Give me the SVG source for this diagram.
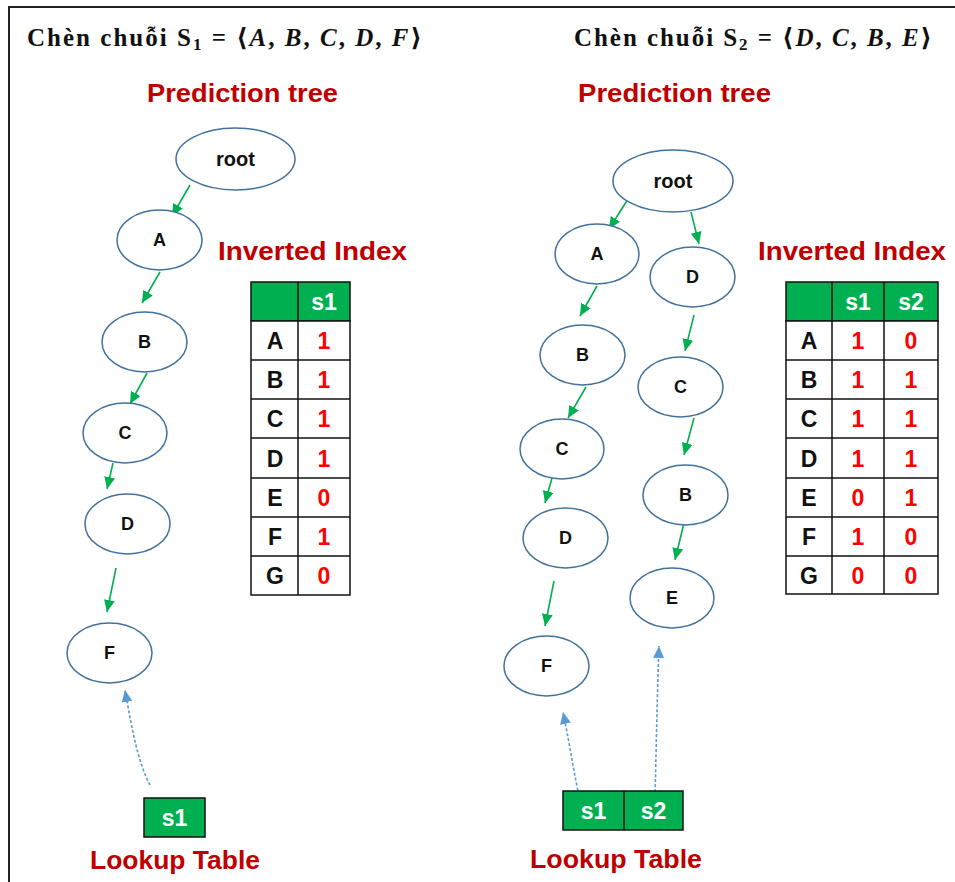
<svg xmlns="http://www.w3.org/2000/svg" width="955" height="882" viewBox="0 0 955 882">
  <style>
    .title { font-family: "Liberation Serif", "DejaVu Serif", serif; font-weight: bold; font-size: 25px; fill: #111; }
    .it { font-style: italic; }
    .sub { font-size: 17px; }
    .head { font-family: "Liberation Sans", Arial, sans-serif; font-weight: bold; font-size: 26px; fill: #C00000; }
    .node ellipse { fill: #fff; stroke: #41719C; stroke-width: 1.5; }
    .node text { font-family: "Liberation Sans", Arial, sans-serif; font-weight: bold; font-size: 18px; fill: #111; text-anchor: middle; }
    .node text.root { font-size: 20px; }
    .edge { stroke: #00B050; stroke-width: 1.6; fill: none; marker-end: url(#ga); }
    .link { stroke: #5B9BD5; stroke-width: 1.6; fill: none; stroke-dasharray: 3 2; marker-end: url(#ba); }
    .grid rect { fill: #fff; stroke: #111; stroke-width: 1.5; }
    .grid rect.hd { fill: #00B050; }
    .grid line { stroke: #111; stroke-width: 1.5; }
    .cell { font-family: "Liberation Sans", Arial, sans-serif; font-weight: bold; font-size: 23px; text-anchor: middle; }
    .key { fill: #111; }
    .val { fill: #FF0000; }
    .hdr { fill: #fff; }
    .frame { stroke: #222; stroke-width: 2; fill: none; }
  </style>
  <defs>
    <marker id="ga" markerUnits="userSpaceOnUse" markerWidth="12" markerHeight="11" refX="12" refY="5.5" orient="auto">
      <path d="M0,0 L12,5.5 L0,11 z" fill="#00B050"/>
    </marker>
    <marker id="ba" markerUnits="userSpaceOnUse" markerWidth="12" markerHeight="11" refX="12" refY="5.5" orient="auto">
      <path d="M0,0 L12,5.5 L0,11 z" fill="#5B9BD5"/>
    </marker>
  </defs>

  <rect width="955" height="882" fill="#fff"/>
  <path class="frame" d="M9,882 V7 H955"/>

  <!-- headings -->
  <text class="title" x="27" y="46" textLength="395" lengthAdjust="spacing">Chèn chuỗi S<tspan class="sub" dy="4">1</tspan><tspan dy="-4"> = ⟨</tspan><tspan class="it">A</tspan>,  <tspan class="it">B</tspan>, <tspan class="it">C</tspan>, <tspan class="it">D</tspan>, <tspan class="it">F</tspan>⟩</text>
  <text class="title" x="574" y="46" textLength="358" lengthAdjust="spacing">Chèn chuỗi S<tspan class="sub" dy="4">2</tspan><tspan dy="-4"> = ⟨</tspan><tspan class="it">D</tspan>, <tspan class="it">C</tspan>, <tspan class="it">B</tspan>, <tspan class="it">E</tspan>⟩</text>

  <text class="head" x="147" y="102" textLength="191" lengthAdjust="spacingAndGlyphs">Prediction tree</text>
  <text class="head" x="578" y="102" textLength="193" lengthAdjust="spacingAndGlyphs">Prediction tree</text>
  <text class="head" x="218" y="260" textLength="189" lengthAdjust="spacingAndGlyphs">Inverted Index</text>
  <text class="head" x="758" y="260" textLength="188" lengthAdjust="spacingAndGlyphs">Inverted Index</text>
  <text class="head" x="90" y="869" textLength="170" lengthAdjust="spacingAndGlyphs">Lookup Table</text>
  <text class="head" x="530" y="868" textLength="172" lengthAdjust="spacingAndGlyphs">Lookup Table</text>

  <!-- connectors -->
  <g id="connectors">
    <!-- tree 1 -->
    <line class="edge" x1="190" y1="185" x2="172" y2="216"/>
    <line class="edge" x1="160" y1="272" x2="142" y2="303"/>
    <line class="edge" x1="147" y1="373" x2="130" y2="404"/>
    <line class="edge" x1="113" y1="463" x2="107" y2="489"/>
    <line class="edge" x1="116" y1="568" x2="107" y2="612"/>
    <!-- tree 2 -->
    <line class="edge" x1="628" y1="199" x2="609" y2="229"/>
    <line class="edge" x1="691" y1="212" x2="699" y2="244"/>
    <line class="edge" x1="597" y1="286" x2="580" y2="316"/>
    <line class="edge" x1="694" y1="315" x2="685" y2="351"/>
    <line class="edge" x1="586" y1="387" x2="568" y2="418"/>
    <line class="edge" x1="694" y1="418" x2="684" y2="455"/>
    <line class="edge" x1="552" y1="478" x2="545" y2="503"/>
    <line class="edge" x1="684" y1="523" x2="675" y2="560"/>
    <line class="edge" x1="554" y1="581" x2="545" y2="626"/>
    <!-- lookup links -->
    <path class="link" d="M150,785 C138,762 132,730 125,690"/>
    <path class="link" d="M580,800 C574,775 570,745 563,712"/>
    <path class="link" d="M655,797 C656,760 657,700 659,646"/>
  </g>

  <!-- tree 1 nodes -->
  <g id="t1-root" class="node"><ellipse cx="235.5" cy="159" rx="59.5" ry="31"/><text class="root" x="235.5" y="166">root</text></g>
  <g id="t1-A" class="node"><ellipse cx="159.5" cy="240" rx="42.5" ry="30"/><text x="159.5" y="246">A</text></g>
  <g id="t1-B" class="node"><ellipse cx="144.5" cy="342" rx="42.5" ry="30"/><text x="144.5" y="348">B</text></g>
  <g id="t1-C" class="node"><ellipse cx="125" cy="433" rx="42" ry="30"/><text x="125" y="439">C</text></g>
  <g id="t1-D" class="node"><ellipse cx="127.5" cy="524" rx="42.5" ry="30"/><text x="127.5" y="530">D</text></g>
  <g id="t1-F" class="node"><ellipse cx="109.5" cy="653" rx="42.5" ry="30"/><text x="109.5" y="659">F</text></g>

  <!-- tree 2 nodes -->
  <g id="t2-root" class="node"><ellipse cx="673" cy="181" rx="60" ry="31"/><text class="root" x="673" y="188">root</text></g>
  <g id="t2-A" class="node"><ellipse cx="597" cy="254" rx="42" ry="30"/><text x="597" y="260">A</text></g>
  <g id="t2-D" class="node"><ellipse cx="692.5" cy="277" rx="42.5" ry="30"/><text x="692.5" y="283">D</text></g>
  <g id="t2-B" class="node"><ellipse cx="582.5" cy="355" rx="42.5" ry="30"/><text x="582.5" y="361">B</text></g>
  <g id="t2-C" class="node"><ellipse cx="680.5" cy="387" rx="42.5" ry="30"/><text x="680.5" y="393">C</text></g>
  <g id="t2-AC" class="node"><ellipse cx="562" cy="449" rx="42" ry="30"/><text x="562" y="455">C</text></g>
  <g id="t2-DB" class="node"><ellipse cx="685.5" cy="495" rx="42.5" ry="30"/><text x="685.5" y="501">B</text></g>
  <g id="t2-AD" class="node"><ellipse cx="565.5" cy="538" rx="42.5" ry="30"/><text x="565.5" y="544">D</text></g>
  <g id="t2-E" class="node"><ellipse cx="672" cy="598" rx="42" ry="30"/><text x="672" y="604">E</text></g>
  <g id="t2-F" class="node"><ellipse cx="546.5" cy="666" rx="42.5" ry="30"/><text x="546.5" y="672">F</text></g>

  <!-- inverted index 1 -->
  <g id="index1" class="grid">
    <rect class="hd" x="251" y="282" width="99" height="39"/>
    <rect x="251" y="321" width="99" height="274"/>
    <line x1="298" y1="282" x2="298" y2="595"/>
    <line x1="251" y1="360" x2="350" y2="360"/>
    <line x1="251" y1="399" x2="350" y2="399"/>
    <line x1="251" y1="438" x2="350" y2="438"/>
    <line x1="251" y1="478" x2="350" y2="478"/>
    <line x1="251" y1="517" x2="350" y2="517"/>
    <line x1="251" y1="556" x2="350" y2="556"/>
    <text class="cell hdr" x="324" y="310">s1</text>
    <text class="cell key" x="275" y="349">A</text><text class="cell val" x="324" y="349">1</text>
    <text class="cell key" x="275" y="388">B</text><text class="cell val" x="324" y="388">1</text>
    <text class="cell key" x="275" y="427">C</text><text class="cell val" x="324" y="427">1</text>
    <text class="cell key" x="275" y="467">D</text><text class="cell val" x="324" y="467">1</text>
    <text class="cell key" x="275" y="506">E</text><text class="cell val" x="324" y="506">0</text>
    <text class="cell key" x="275" y="545">F</text><text class="cell val" x="324" y="545">1</text>
    <text class="cell key" x="275" y="584">G</text><text class="cell val" x="324" y="584">0</text>
  </g>

  <!-- inverted index 2 -->
  <g id="index2" class="grid">
    <rect class="hd" x="786" y="282" width="152" height="39"/>
    <rect x="786" y="321" width="152" height="273"/>
    <line x1="832" y1="282" x2="832" y2="594"/>
    <line x1="884" y1="282" x2="884" y2="594"/>
    <line x1="786" y1="360" x2="938" y2="360"/>
    <line x1="786" y1="399" x2="938" y2="399"/>
    <line x1="786" y1="438" x2="938" y2="438"/>
    <line x1="786" y1="478" x2="938" y2="478"/>
    <line x1="786" y1="517" x2="938" y2="517"/>
    <line x1="786" y1="556" x2="938" y2="556"/>
    <text class="cell hdr" x="858" y="310">s1</text><text class="cell hdr" x="911" y="310">s2</text>
    <text class="cell key" x="809" y="349">A</text><text class="cell val" x="858" y="349">1</text><text class="cell val" x="911" y="349">0</text>
    <text class="cell key" x="809" y="388">B</text><text class="cell val" x="858" y="388">1</text><text class="cell val" x="911" y="388">1</text>
    <text class="cell key" x="809" y="427">C</text><text class="cell val" x="858" y="427">1</text><text class="cell val" x="911" y="427">1</text>
    <text class="cell key" x="809" y="467">D</text><text class="cell val" x="858" y="467">1</text><text class="cell val" x="911" y="467">1</text>
    <text class="cell key" x="809" y="506">E</text><text class="cell val" x="858" y="506">0</text><text class="cell val" x="911" y="506">1</text>
    <text class="cell key" x="809" y="545">F</text><text class="cell val" x="858" y="545">1</text><text class="cell val" x="911" y="545">0</text>
    <text class="cell key" x="809" y="584">G</text><text class="cell val" x="858" y="584">0</text><text class="cell val" x="911" y="584">0</text>
  </g>

  <!-- lookup tables -->
  <g id="lookup1" class="grid">
    <rect class="hd" x="144" y="798" width="61" height="39"/>
    <text class="cell hdr" x="174.5" y="826">s1</text>
  </g>
  <g id="lookup2" class="grid">
    <rect class="hd" x="563" y="791" width="120" height="39"/>
    <line x1="624" y1="791" x2="624" y2="830"/>
    <text class="cell hdr" x="593.5" y="819">s1</text>
    <text class="cell hdr" x="653.5" y="819">s2</text>
  </g>
</svg>
